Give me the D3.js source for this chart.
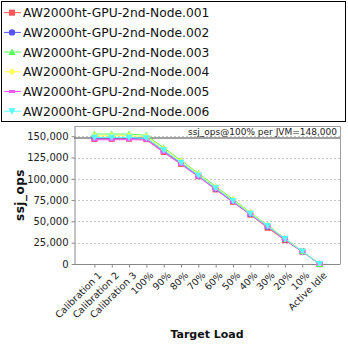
<!DOCTYPE html>
<html><head><meta charset="utf-8">
<script src="https://cdn.jsdelivr.net/npm/d3@7"></script>
<style>body{margin:0;background:#fff}svg{display:block}text{font-family:"DejaVu Sans",sans-serif}</style>
</head><body>
<svg id="c" width="348" height="348"></svg>
<script>
const categories = ["Calibration 1","Calibration 2","Calibration 3","100%","90%","80%","70%","60%","50%","40%","30%","20%","10%","Active Idle"];
const seriesNames = ["AW2000ht-GPU-2nd-Node.001","AW2000ht-GPU-2nd-Node.002","AW2000ht-GPU-2nd-Node.003","AW2000ht-GPU-2nd-Node.004","AW2000ht-GPU-2nd-Node.005","AW2000ht-GPU-2nd-Node.006"];
const node001 = [146800,146900,147000,146500,131500,117500,103000,87500,73000,58000,42500,28000,14500,0];
const node002 = [147800,147900,148000,147500,133000,118500,104000,88500,74000,59000,44000,29000,14800,0];
const node003 = [152500,152600,152500,151000,136500,121500,106500,91000,76000,60500,45500,30000,15300,0];
const node004 = [150500,150600,150700,149500,135000,120500,105500,90000,75000,60000,45000,29500,15000,0];
const node005 = [145800,145900,146000,145500,131000,117000,102500,87500,72500,58000,43500,28500,14500,0];
const node006 = [148500,148600,148500,147500,133500,119000,104000,89000,74000,59000,44500,29500,14800,0];
const yTicks = [0,25000,50000,75000,100000,125000,150000];
const refValue = 148000;
const refLabel = "ssj_ops@100% per JVM=148,000";
const colors = ["#ff5555","#5555ff","#55ff55","#ffff55","#ff55ff","#55ffff"];
const shapes = ["square","circle","up","diamond","rect","down"];
const seriesValues = [node001,node002,node003,node004,node005,node006];

const svg = d3.select("#c");
const L = 74, R = 340, T = 126, B = 264;
const x = d3.scalePoint().domain(categories).range([L, R]).padding(1.18);
const y = d3.scaleLinear().domain([0, 162000]).range([B, T]);

// grid
svg.append("g").selectAll("line").data(yTicks.filter(d=>d>0)).join("line")
  .attr("x1", L).attr("x2", R).attr("y1", d=>Math.round(y(d))+0.5).attr("y2", d=>Math.round(y(d))+0.5)
  .attr("stroke", "#c8c8c8").attr("stroke-width", 1).attr("stroke-dasharray", "2,2");
// border
svg.append("path").attr("d", `M${L+0.5},${T+0.5}H${R+0.5}V${B+0.5}`).attr("fill","none").attr("stroke","#a0a0a0");

// y axis
const ya = svg.append("g").attr("transform", `translate(${L+0.5},0)`)
  .call(d3.axisLeft(y).tickValues(yTicks).tickFormat(d3.format(",")).tickSize(3).tickSizeOuter(0));
ya.select(".domain").attr("stroke","#888");
ya.selectAll(".tick line").attr("stroke","#888");
ya.selectAll("text").attr("font-size","10px").attr("fill","#222").attr("font-family","DejaVu Sans");
// x axis
const xa = svg.append("g").attr("transform", `translate(0,${B+0.5})`)
  .call(d3.axisBottom(x).tickSize(3).tickSizeOuter(0));
xa.select(".domain").attr("stroke","#888").attr("d", `M${L},0H${R}`);
xa.selectAll(".tick line").attr("stroke","#888");
xa.selectAll("text").attr("font-size","9.5px").attr("fill","#222").attr("font-family","DejaVu Sans")
  .attr("text-anchor","end").attr("dy","0.35em")
  .attr("transform","translate(5,9) rotate(-45)").attr("x",0).attr("y",0);

// reference line
svg.append("line").attr("x1",L).attr("x2",R).attr("y1",y(refValue)).attr("y2",y(refValue))
  .attr("stroke","#808080").attr("stroke-width",1.5);
svg.append("text").attr("x",R-3).attr("y",T+9).attr("text-anchor","end").attr("font-size","9px")
  .attr("fill","#222").text(refLabel);

function marker(g, shape, cx, cy, color){
  let s;
  if(shape==="square") s = g.append("rect").attr("x",cx-3).attr("y",cy-3).attr("width",6).attr("height",6);
  else if(shape==="circle") s = g.append("circle").attr("cx",cx).attr("cy",cy).attr("r",3.2);
  else if(shape==="up") s = g.append("path").attr("d",`M${cx},${cy-3.5}L${cx+3.5},${cy+3}L${cx-3.5},${cy+3}Z`);
  else if(shape==="diamond") s = g.append("path").attr("d",`M${cx},${cy-3.5}L${cx+3.5},${cy}L${cx},${cy+3.5}L${cx-3.5},${cy}Z`);
  else if(shape==="rect") s = g.append("rect").attr("x",cx-3).attr("y",cy-1.5).attr("width",6).attr("height",3);
  else s = g.append("path").attr("d",`M${cx-3.5},${cy-3}L${cx+3.5},${cy-3}L${cx},${cy+3.5}Z`);
  s.attr("fill", color);
}

const line = d3.line().x((d,i)=>x(categories[i])).y(d=>y(d));
seriesValues.forEach((vals, si)=>{
  const g = svg.append("g");
  g.append("path").attr("d", line(vals)).attr("fill","none").attr("stroke",colors[si]).attr("stroke-width",1);
  vals.forEach((v,i)=>marker(g, shapes[si], x(categories[i]), y(v), colors[si]));
});

// axis titles
svg.append("text").attr("x", (L+R)/2).attr("y", 338).attr("text-anchor","middle")
  .attr("font-size","11px").attr("font-weight","bold").attr("fill","#111").text("Target Load");
svg.append("text").attr("transform", `translate(24,${(T+B)/2}) rotate(-90)`).attr("text-anchor","middle")
  .attr("font-size","12px").attr("font-weight","bold").attr("letter-spacing","0.5px").attr("fill","#111").text("ssj_ops");

// legend
svg.append("rect").attr("x",1.5).attr("y",1.5).attr("width",344).attr("height",120)
  .attr("fill","#fff").attr("stroke","#000").attr("stroke-width",1);
seriesNames.forEach((n, i)=>{
  const cy = 12.7 + i*19.7;
  const g = svg.append("g");
  g.append("line").attr("x1",4).attr("x2",21).attr("y1",cy).attr("y2",cy).attr("stroke",colors[i]).attr("stroke-width",1);
  marker(g, shapes[i], 12, cy, colors[i]);
  g.append("text").attr("x",23).attr("y",cy).attr("dy","0.36em").attr("font-size","12.3px").attr("fill","#111").text(n);
});
</script>
</body></html>
